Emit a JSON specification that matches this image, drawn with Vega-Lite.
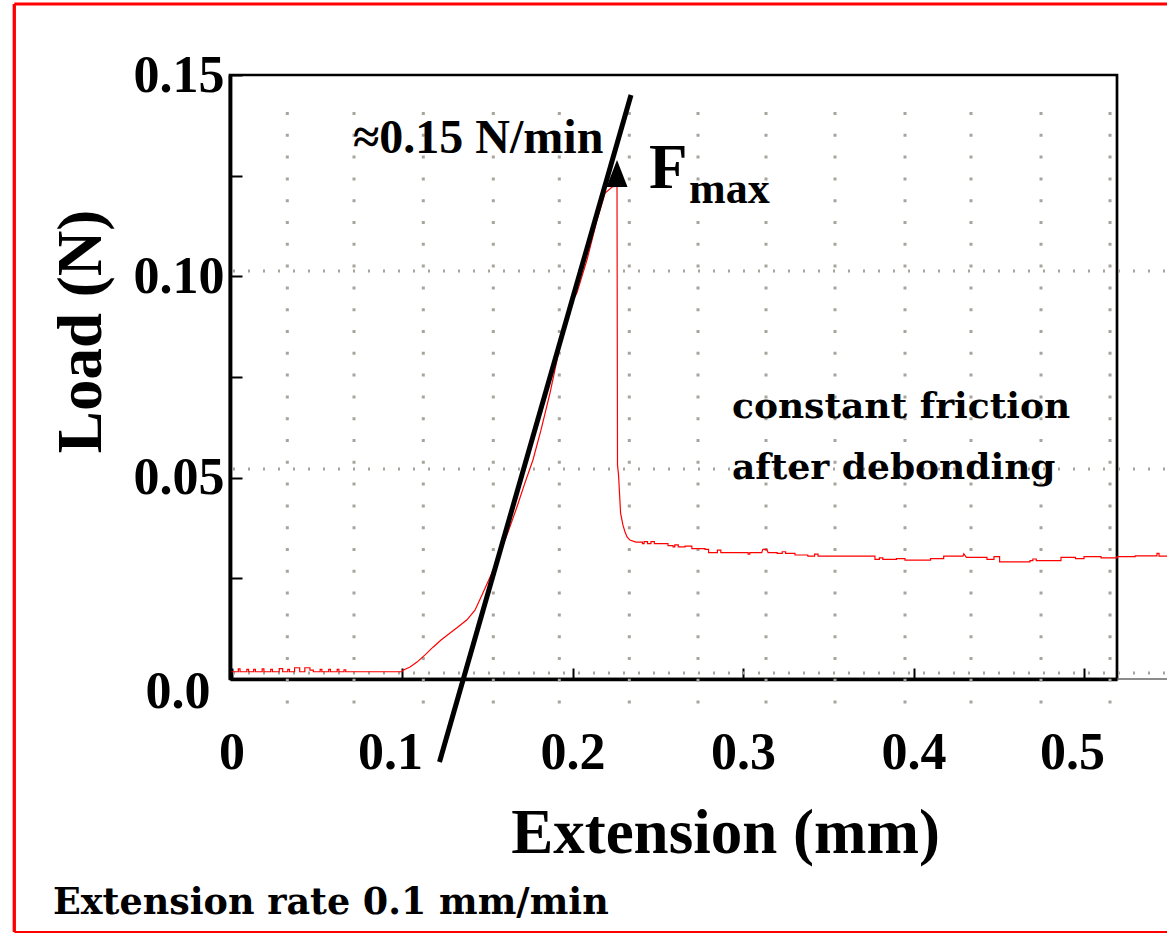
{
  "$schema": "https://vega.github.io/schema/vega-lite/v6.json",
  "width": 887,
  "height": 604,
  "autosize": {"type": "none"},
  "padding": {"left": 230, "top": 75, "right": 50, "bottom": 256},
  "background": "white",
  "config": {"view": {"stroke": "black", "strokeWidth": 2.7}},
  "data": {"values": [{}]},
  "datasets": {
    "curve": [
      {"x": 0.0, "load": 0.0018}, {"x": 0.004, "load": 0.0018}, {"x": 0.004, "load": 0.0025}, {"x": 0.005, "load": 0.0025}, {"x": 0.005, "load": 0.0018},
      {"x": 0.009, "load": 0.0018}, {"x": 0.009, "load": 0.0024}, {"x": 0.010, "load": 0.0024}, {"x": 0.010, "load": 0.0018},
      {"x": 0.013, "load": 0.0018}, {"x": 0.013, "load": 0.0024}, {"x": 0.014, "load": 0.0024}, {"x": 0.014, "load": 0.0018},
      {"x": 0.018, "load": 0.0018}, {"x": 0.018, "load": 0.0025}, {"x": 0.019, "load": 0.0025}, {"x": 0.019, "load": 0.0018},
      {"x": 0.023, "load": 0.0018}, {"x": 0.023, "load": 0.0024}, {"x": 0.024, "load": 0.0024}, {"x": 0.024, "load": 0.0018},
      {"x": 0.028, "load": 0.0018}, {"x": 0.028, "load": 0.0026}, {"x": 0.030, "load": 0.0026}, {"x": 0.030, "load": 0.0018},
      {"x": 0.033, "load": 0.0018}, {"x": 0.033, "load": 0.0024}, {"x": 0.034, "load": 0.0024}, {"x": 0.034, "load": 0.0018},
      {"x": 0.037, "load": 0.0018}, {"x": 0.037, "load": 0.0028}, {"x": 0.040, "load": 0.0028}, {"x": 0.040, "load": 0.0018},
      {"x": 0.043, "load": 0.0018}, {"x": 0.043, "load": 0.0028}, {"x": 0.046, "load": 0.0028}, {"x": 0.046, "load": 0.0022}, {"x": 0.048, "load": 0.0022}, {"x": 0.048, "load": 0.0018},
      {"x": 0.052, "load": 0.0018}, {"x": 0.052, "load": 0.0024}, {"x": 0.053, "load": 0.0024}, {"x": 0.053, "load": 0.0018},
      {"x": 0.057, "load": 0.0018}, {"x": 0.057, "load": 0.0024}, {"x": 0.058, "load": 0.0024}, {"x": 0.058, "load": 0.0018},
      {"x": 0.062, "load": 0.0018}, {"x": 0.062, "load": 0.0024}, {"x": 0.063, "load": 0.0024}, {"x": 0.063, "load": 0.0018},
      {"x": 0.066, "load": 0.0018}, {"x": 0.066, "load": 0.0023}, {"x": 0.067, "load": 0.0023}, {"x": 0.067, "load": 0.0018},
      {"x": 0.1, "load": 0.0018},
      {"x": 0.1006, "load": 0.0022}, {"x": 0.1047, "load": 0.0030}, {"x": 0.1088, "load": 0.0042},
      {"x": 0.1135, "load": 0.0060}, {"x": 0.1182, "load": 0.0079}, {"x": 0.1229, "load": 0.0097},
      {"x": 0.1282, "load": 0.0114}, {"x": 0.1328, "load": 0.0129}, {"x": 0.1381, "load": 0.0147},
      {"x": 0.1428, "load": 0.0171}, {"x": 0.1475, "load": 0.0214}, {"x": 0.1522, "load": 0.0258},
      {"x": 0.1575, "load": 0.0313}, {"x": 0.1622, "load": 0.0365}, {"x": 0.1674, "load": 0.0427},
      {"x": 0.1721, "load": 0.0487}, {"x": 0.1768, "load": 0.0544}, {"x": 0.1815, "load": 0.0618},
      {"x": 0.1868, "load": 0.0710}, {"x": 0.1909, "load": 0.0792}, {"x": 0.1944, "load": 0.0859},
      {"x": 0.2003, "load": 0.0941}, {"x": 0.2026, "load": 0.0959}, {"x": 0.2085, "load": 0.1041},
      {"x": 0.2144, "load": 0.1140}, {"x": 0.2191, "load": 0.1207}, {"x": 0.2232, "load": 0.1222},
      {"x": 0.2261, "load": 0.1224}, {"x": 0.2264, "load": 0.0531}, {"x": 0.2270, "load": 0.0507},
      {"x": 0.2282, "load": 0.0412}, {"x": 0.2296, "load": 0.0382}, {"x": 0.2308, "load": 0.0365},
      {"x": 0.2320, "load": 0.0353}, {"x": 0.2337, "load": 0.0345}, {"x": 0.2372, "load": 0.0340},
      {"x": 0.2410, "load": 0.0340}, {"x": 0.2410, "load": 0.0336}, {"x": 0.2420, "load": 0.0336}, {"x": 0.2420, "load": 0.0341},
      {"x": 0.2440, "load": 0.0341}, {"x": 0.2440, "load": 0.0336}, {"x": 0.2460, "load": 0.0336}, {"x": 0.2460, "load": 0.0341},
      {"x": 0.2480, "load": 0.0341}, {"x": 0.2480, "load": 0.0336}, {"x": 0.2560, "load": 0.0336}, {"x": 0.2560, "load": 0.0331},
      {"x": 0.2590, "load": 0.0331}, {"x": 0.2590, "load": 0.0328}, {"x": 0.2600, "load": 0.0328}, {"x": 0.2600, "load": 0.0333},
      {"x": 0.2620, "load": 0.0333}, {"x": 0.2620, "load": 0.0328}, {"x": 0.2660, "load": 0.0328}, {"x": 0.2660, "load": 0.0330},
      {"x": 0.2700, "load": 0.0330}, {"x": 0.2700, "load": 0.0324}, {"x": 0.2777, "load": 0.0324}, {"x": 0.2777, "load": 0.0322},
      {"x": 0.2798, "load": 0.0322}, {"x": 0.2798, "load": 0.0314}, {"x": 0.2850, "load": 0.0314}, {"x": 0.2850, "load": 0.0320},
      {"x": 0.2870, "load": 0.0320}, {"x": 0.2870, "load": 0.0314}, {"x": 0.3030, "load": 0.0314}, {"x": 0.3030, "load": 0.0310},
      {"x": 0.3040, "load": 0.0310}, {"x": 0.3040, "load": 0.0314}, {"x": 0.3110, "load": 0.0314}, {"x": 0.3116, "load": 0.0322},
      {"x": 0.3140, "load": 0.0322}, {"x": 0.3147, "load": 0.0314}, {"x": 0.3200, "load": 0.0314}, {"x": 0.3200, "load": 0.0312},
      {"x": 0.3230, "load": 0.0312}, {"x": 0.3230, "load": 0.0316}, {"x": 0.3250, "load": 0.0316}, {"x": 0.3250, "load": 0.0312},
      {"x": 0.3305, "load": 0.0312}, {"x": 0.3305, "load": 0.0308}, {"x": 0.3380, "load": 0.0308}, {"x": 0.3380, "load": 0.0305},
      {"x": 0.3420, "load": 0.0305}, {"x": 0.3420, "load": 0.0310}, {"x": 0.3440, "load": 0.0310}, {"x": 0.3440, "load": 0.0305},
      {"x": 0.3774, "load": 0.0305}, {"x": 0.3774, "load": 0.0297}, {"x": 0.3800, "load": 0.0297}, {"x": 0.3800, "load": 0.0301},
      {"x": 0.3820, "load": 0.0301}, {"x": 0.3820, "load": 0.0297}, {"x": 0.3900, "load": 0.0297}, {"x": 0.3900, "load": 0.0299},
      {"x": 0.3950, "load": 0.0299}, {"x": 0.3950, "load": 0.0295}, {"x": 0.4100, "load": 0.0295}, {"x": 0.4100, "load": 0.0299},
      {"x": 0.4177, "load": 0.0299}, {"x": 0.4177, "load": 0.0305}, {"x": 0.4290, "load": 0.0305}, {"x": 0.4295, "load": 0.0311},
      {"x": 0.4310, "load": 0.0302}, {"x": 0.4431, "load": 0.0302}, {"x": 0.4431, "load": 0.0297}, {"x": 0.4472, "load": 0.0297},
      {"x": 0.4472, "load": 0.0304}, {"x": 0.4505, "load": 0.0304}, {"x": 0.4505, "load": 0.0291}, {"x": 0.4683, "load": 0.0291},
      {"x": 0.4683, "load": 0.0294}, {"x": 0.4700, "load": 0.0294}, {"x": 0.4700, "load": 0.0298}, {"x": 0.4720, "load": 0.0298},
      {"x": 0.4720, "load": 0.0294}, {"x": 0.4865, "load": 0.0294}, {"x": 0.4865, "load": 0.0302}, {"x": 0.4950, "load": 0.0302},
      {"x": 0.4950, "load": 0.0299}, {"x": 0.5000, "load": 0.0299}, {"x": 0.5000, "load": 0.0304}, {"x": 0.5100, "load": 0.0304},
      {"x": 0.5100, "load": 0.0301}, {"x": 0.5194, "load": 0.0301}, {"x": 0.5194, "load": 0.0304}, {"x": 0.5300, "load": 0.0304},
      {"x": 0.5300, "load": 0.0306}, {"x": 0.5428, "load": 0.0306}, {"x": 0.5428, "load": 0.0312}, {"x": 0.5440, "load": 0.0312},
      {"x": 0.5440, "load": 0.0305}, {"x": 0.5487, "load": 0.0305}
    ],
    "gridx": [
      {"gx": 0.03273}, {"gx": 0.07185}, {"gx": 0.11249}, {"gx": 0.15355}, {"gx": 0.19226},
      {"gx": 0.23331}, {"gx": 0.27361}, {"gx": 0.31349}, {"gx": 0.35396}, {"gx": 0.39501},
      {"gx": 0.43372}, {"gx": 0.47478}, {"gx": 0.51525}
    ],
    "gridy": [{"gy": 0.10132}, {"gy": 0.05215}, {"gy": 0.00149}]
  },
  "layer": [
    {
      "data": {"name": "gridx"},
      "mark": {"type": "rule", "color": "#a8a49c", "strokeWidth": 3, "strokeDash": [3, 18.8]},
      "encoding": {
        "x": {"field": "gx", "type": "quantitative"},
        "y": {"datum": 0.14081},
        "y2": {"datum": -0.0062}
      }
    },
    {
      "data": {"name": "gridy"},
      "mark": {"type": "rule", "color": "#a8a49c", "strokeWidth": 3, "strokeDash": [2, 13]},
      "encoding": {
        "y": {"field": "gy", "type": "quantitative"},
        "x": {"datum": 0.00088},
        "x2": {"datum": 0.5487}
      }
    },
    {
      "data": {"name": "curve"},
      "mark": {"type": "line", "interpolate": "linear", "color": "#ff0000", "strokeWidth": 1.2},
      "encoding": {
        "x": {
          "field": "x", "type": "quantitative",
          "scale": {"domain": [-0.00088, 0.51935], "nice": false, "zero": false},
          "axis": {
            "values": [0, 0.1, 0.2, 0.3, 0.4, 0.5],
            "labelExpr": "datum.value == 0 ? '0' : format(datum.value, '.1f')",
            "grid": false,
            "domain": true, "domainColor": "black", "domainWidth": 3.3,
            "ticks": true, "tickColor": "black", "tickWidth": 2, "tickSize": -11,
            "labelPadding": 59, "labelFlush": false, "labelOverlap": false, "labelBound": false,
            "labelOffset": {"condition": {"test": "datum.value == 0.1 || datum.value == 0.5", "value": -12}, "value": 0},
            "labelFont": "Liberation Serif", "labelFontWeight": "bold", "labelFontSize": 52, "labelColor": "black",
            "title": "Extension (mm)",
            "titleFont": "Liberation Serif", "titleFontWeight": "bold", "titleFontSize": 63, "titleColor": "black",
            "titleX": 495, "titleY": 173, "titleAlign": "center", "titleBaseline": "alphabetic"
          }
        },
        "y": {
          "field": "load", "type": "quantitative",
          "scale": {"domain": [0, 0.15], "nice": false, "zero": false},
          "axis": {
            "values": [0, 0.025, 0.05, 0.075, 0.1, 0.125, 0.15],
            "labelExpr": "datum.value == 0 ? '0.0' : (indexof(['0.05', '0.10', '0.15'], format(datum.value, '.2f')) >= 0 ? format(datum.value, '.2f') : '')",
            "grid": false,
            "domain": true, "domainColor": "black", "domainWidth": 3.8,
            "ticks": true, "tickColor": "black", "tickWidth": 2, "tickSize": -12,
            "labelPadding": {"condition": {"test": "datum.value == 0", "value": 32}, "value": 18},
            "labelOffset": {"condition": {"test": "datum.value == 0", "value": 12}, "value": 0},
            "labelFlush": false, "labelOverlap": false, "labelBound": false,
            "labelFont": "Liberation Serif", "labelFontWeight": "bold", "labelFontSize": 52, "labelColor": "black",
            "title": "Load (N)",
            "titleFont": "Liberation Serif", "titleFontWeight": "bold", "titleFontSize": 63, "titleColor": "black",
            "titleX": -130, "titleY": 256, "titleAngle": -90, "titleAlign": "center", "titleBaseline": "alphabetic"
          }
        }
      }
    },
    {
      "mark": {"type": "rule", "color": "black", "strokeWidth": 5},
      "encoding": {
        "x": {"datum": 0.12199},
        "y": {"datum": -0.02061},
        "x2": {"datum": 0.23431},
        "y2": {"datum": 0.14503}
      }
    },
    {
      "mark": {"type": "point", "shape": "M-0.78,1L0.78,1L0,-1Z", "size": 729, "filled": true, "color": "black", "opacity": 1},
      "encoding": {"x": {"datum": 0.2261}, "y": {"datum": 0.12554}}
    },
    {
      "mark": {"type": "text", "text": "≈0.15 N/min", "font": "Liberation Serif", "fontWeight": "bold", "fontSize": 48, "align": "left", "baseline": "alphabetic", "color": "black"},
      "encoding": {"x": {"datum": 0.07126}, "y": {"datum": 0.13063}}
    },
    {
      "mark": {"type": "text", "text": "F", "font": "Liberation Serif", "fontWeight": "bold", "fontSize": 63, "align": "left", "baseline": "alphabetic", "color": "black"},
      "encoding": {"x": {"datum": 0.24487}, "y": {"datum": 0.12194}}
    },
    {
      "mark": {"type": "text", "text": "max", "font": "Liberation Serif", "fontWeight": "bold", "fontSize": 44, "align": "left", "baseline": "alphabetic", "color": "black"},
      "encoding": {"x": {"datum": 0.26833}, "y": {"datum": 0.11821}}
    },
    {
      "mark": {"type": "text", "text": "constant friction", "font": "DejaVu Serif", "fontWeight": "bold", "fontSize": 36, "align": "left", "baseline": "alphabetic", "color": "black"},
      "encoding": {"x": {"datum": 0.29355}, "y": {"datum": 0.06482}}
    },
    {
      "mark": {"type": "text", "text": "after debonding", "font": "DejaVu Serif", "fontWeight": "bold", "fontSize": 36, "align": "left", "baseline": "alphabetic", "color": "black"},
      "encoding": {"x": {"datum": 0.29355}, "y": {"datum": 0.04967}}
    },
    {
      "mark": {"type": "text", "text": "Extension rate 0.1 mm/min", "font": "DejaVu Serif", "fontWeight": "bold", "fontSize": 36.5, "align": "left", "baseline": "alphabetic", "color": "black"},
      "encoding": {"x": {"datum": -0.1047}, "y": {"datum": -0.05836}}
    },
    {
      "mark": {"type": "rule", "color": "#666666", "strokeWidth": 1.5},
      "encoding": {"x": {"datum": 0.51935}, "x2": {"datum": 0.5487}, "y": {"datum": 0}}
    },
    {
      "mark": {"type": "rule", "color": "#ff0000", "strokeWidth": 3.3},
      "encoding": {"x": {"datum": -0.12739}, "y": {"datum": 0.16763}, "y2": {"datum": -0.06283}}
    },
    {
      "mark": {"type": "rule", "color": "#ff0000", "strokeWidth": 3},
      "encoding": {"x": {"datum": -0.12739}, "x2": {"datum": 0.5563}, "y": {"datum": 0.16763}}
    },
    {
      "mark": {"type": "rule", "color": "#ff0000", "strokeWidth": 2},
      "encoding": {"x": {"datum": -0.12739}, "x2": {"datum": 0.5563}, "y": {"datum": -0.06283}}
    }
  ]
}
